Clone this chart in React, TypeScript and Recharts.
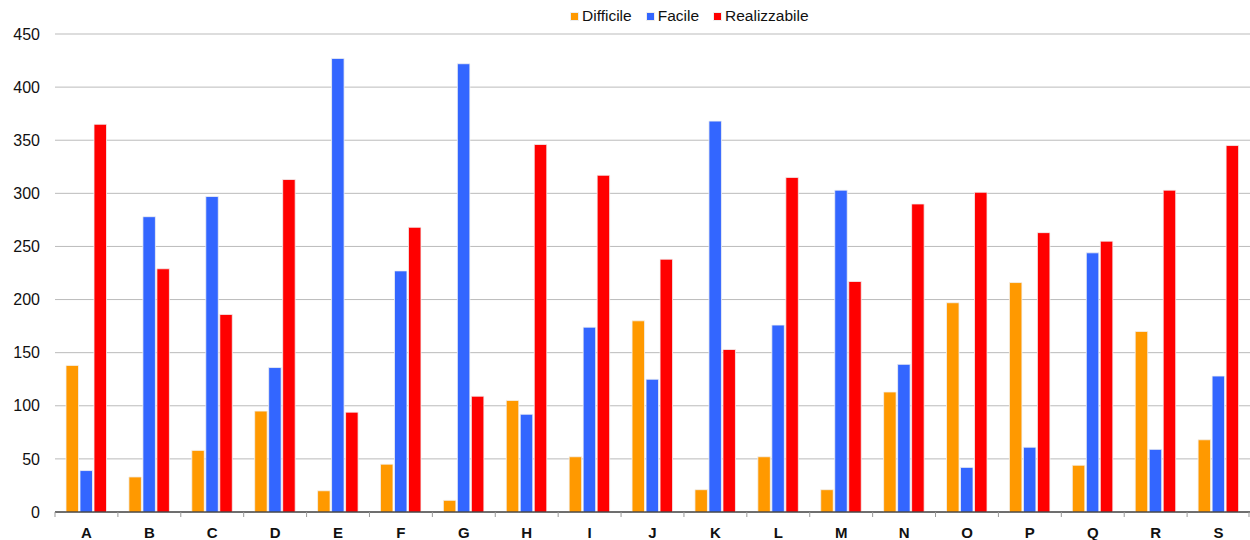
import React from 'react';
import { BarChart, Bar, XAxis, YAxis, CartesianGrid, Legend } from 'recharts';

const categories = ['A', 'B', 'C', 'D', 'E', 'F', 'G', 'H', 'I', 'J', 'K', 'L', 'M', 'N', 'O', 'P', 'Q', 'R', 'S'];
const difficile = [138, 33, 58, 95, 20, 45, 11, 105, 52, 180, 21, 52, 21, 113, 197, 216, 44, 170, 68];
const facile = [39, 278, 297, 136, 427, 227, 422, 92, 174, 125, 368, 176, 303, 139, 42, 61, 244, 59, 128];
const realizzabile = [365, 229, 186, 313, 94, 268, 109, 346, 317, 238, 153, 315, 217, 290, 301, 263, 255, 303, 345];
const yTicks = [0, 50, 100, 150, 200, 250, 300, 350, 400, 450];

const seriesNames = ['Difficile', 'Facile', 'Realizzabile'];
const seriesColors = ['#FF9900', '#3366FF', '#FF0000'];

const data = categories.map((c, i) => ({
  name: c,
  Difficile: difficile[i],
  Facile: facile[i],
  Realizzabile: realizzabile[i],
}));

const FONT = "Arial, 'Liberation Sans', sans-serif";

const XTick = (props: any) => {
  const { x, y, payload, index } = props;
  const off = payload && payload.offset ? payload.offset : 31.45;
  const isLast = index === categories.length - 1;
  const ly = y - 8;
  return (
    <g>
      <line x1={x - off} y1={ly} x2={x - off} y2={ly + 5} stroke="#999" strokeWidth={1} />
      {isLast && <line x1={x + off - 1} y1={ly} x2={x + off - 1} y2={ly + 5} stroke="#999" strokeWidth={1} />}
      <text x={x} y={y + 18} textAnchor="middle" fontFamily={FONT} fontSize={15} fontWeight="bold" fill="#111">
        {payload.value}
      </text>
    </g>
  );
};

const LegendContent = () => (
  <div style={{ display: 'flex', justifyContent: 'flex-start', paddingLeft: 571, fontFamily: FONT, fontSize: 15.5, lineHeight: '16px', color: '#111' }}>
    {seriesNames.map((n, i) => (
      <div key={n} style={{ display: 'flex', alignItems: 'center', marginLeft: i === 0 ? 0 : 15 }}>
        <span style={{ display: 'inline-block', width: 7, height: 7, background: seriesColors[i], marginRight: 4, boxShadow: '0 0 0 1px #eee' }} />
        <span>{n}</span>
      </div>
    ))}
  </div>
);

export default function App() {
  return (
    <div style={{ position: 'absolute', left: 0, top: 0, width: 1250, height: 540, background: '#fff' }}>
      <BarChart
        width={1250}
        height={540}
        data={data}
        margin={{ top: 18, right: 0, bottom: 0, left: 0 }}
        barSize={12.5}
        barGap={1.5}
      >
        <CartesianGrid vertical={false} stroke="#BBBBBB" strokeWidth={1} />
        <Legend verticalAlign="top" align="center" content={<LegendContent />} wrapperStyle={{ top: 8, left: 0, width: 1250 }} />
        <XAxis
          dataKey="name"
          height={28}
          axisLine={{ stroke: '#000', strokeWidth: 1 }}
          tickLine={false}
          interval={0}
          tick={<XTick />}
        />
        <YAxis
          width={55}
          domain={[0, 450]}
          ticks={yTicks}
          axisLine={false}
          tickLine={false}
          tickMargin={9}
          tick={{ fontFamily: FONT, fontSize: 16, fill: '#111' }}
        />
        {seriesNames.map((n, i) => (
          <Bar key={n} dataKey={n} fill={seriesColors[i]} stroke="#f2f2f2" strokeWidth={0.8} isAnimationActive={false} />
        ))}
      </BarChart>
    </div>
  );
}
